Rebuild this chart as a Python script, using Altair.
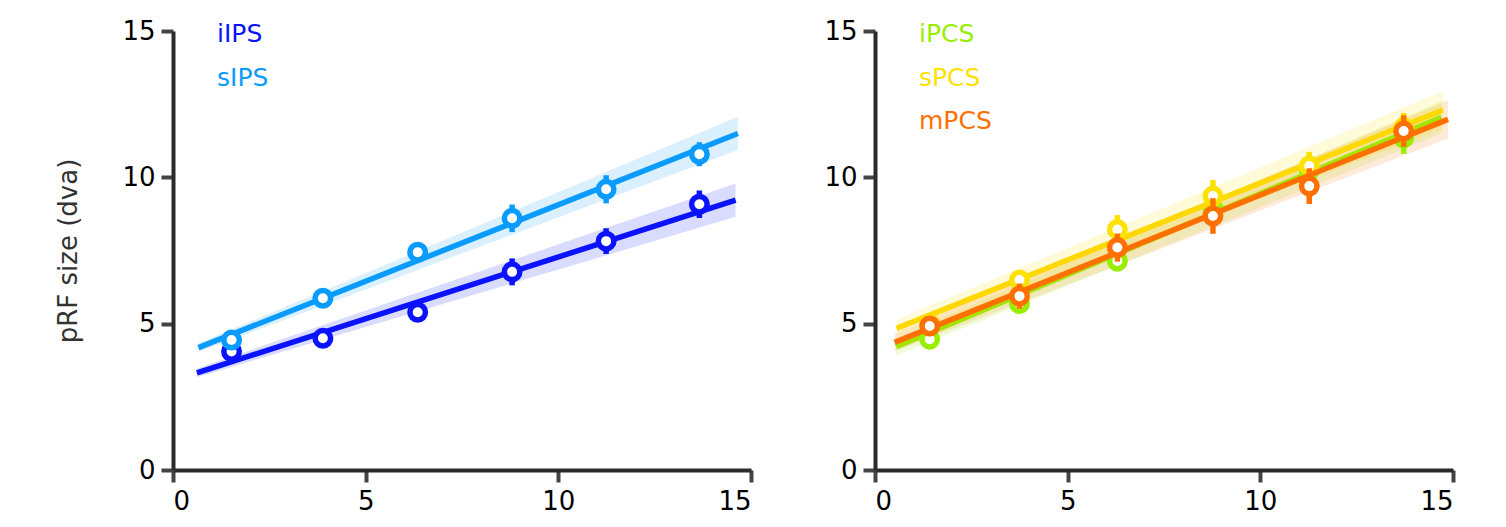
import altair as alt
import pandas as pd

# ---------------- data ----------------
ecc_left = [1.52, 3.89, 6.35, 8.80, 11.24, 13.66]
ecc_right = [1.42, 3.75, 6.29, 8.77, 11.27, 13.72]

iips_size = [4.05, 4.50, 5.39, 6.77, 7.82, 9.08]
iips_err = [0.20, 0.20, 0.25, 0.46, 0.44, 0.47]
sips_size = [4.44, 5.87, 7.44, 8.60, 9.59, 10.79]
sips_err = [0.20, 0.20, 0.25, 0.47, 0.48, 0.41]

ipcs_size = [4.47, 5.69, 7.14, 8.95, 10.25, 11.35]
ipcs_err = [0.20, 0.30, 0.35, 0.40, 0.50, 0.55]
spcs_size = [4.98, 6.49, 8.22, 9.36, 10.39, 11.70]
spcs_err = [0.20, 0.20, 0.49, 0.55, 0.48, 0.50]
mpcs_size = [4.92, 5.94, 7.60, 8.68, 9.70, 11.58]
mpcs_err = [0.20, 0.43, 0.48, 0.61, 0.61, 0.54]

# fitted lines: x start/end, y start/end; band half-width at start/end
iips_fit_x = [0.62, 14.60]
iips_fit_y = [3.32, 9.22]
iips_band = [0.15, 0.57]
sips_fit_x = [0.66, 14.66]
sips_fit_y = [4.18, 11.50]
sips_band = [0.15, 0.57]
ipcs_fit_x = [0.55, 14.70]
ipcs_fit_y = [4.21, 12.05]
ipcs_band = [0.30, 0.55]
spcs_fit_x = [0.56, 14.74]
spcs_fit_y = [4.84, 12.30]
spcs_band = [0.30, 0.65]
mpcs_fit_x = [0.51, 14.87]
mpcs_fit_y = [4.36, 11.98]
mpcs_band = [0.30, 0.65]

left_names = ["iIPS", "sIPS"]
right_names = ["iPCS", "sPCS", "mPCS"]
colors = {"iIPS": "#0A12FF", "sIPS": "#0A9BFF",
          "iPCS": "#99EE00", "sPCS": "#FFE100", "mPCS": "#FF7000"}
line_colors = {"iIPS": "#0A12FF", "sIPS": "#0A9BFF",
               "iPCS": "#A2E600", "sPCS": "#FFD800", "mPCS": "#FF7000"}

x_ticks = [0, 5, 10, 15]
y_ticks = [0, 5, 10, 15]

series = {
    "iIPS": (ecc_left, iips_size, iips_err, iips_fit_x, iips_fit_y, iips_band),
    "sIPS": (ecc_left, sips_size, sips_err, sips_fit_x, sips_fit_y, sips_band),
    "iPCS": (ecc_right, ipcs_size, ipcs_err, ipcs_fit_x, ipcs_fit_y, ipcs_band),
    "sPCS": (ecc_right, spcs_size, spcs_err, spcs_fit_x, spcs_fit_y, spcs_band),
    "mPCS": (ecc_right, mpcs_size, mpcs_err, mpcs_fit_x, mpcs_fit_y, mpcs_band),
}

FONT = "DejaVu Sans"


def axis_x():
    return alt.Axis(values=x_ticks, grid=False, title=None, tickSize=12, tickWidth=4,
                    tickColor="#444444", domainColor="#2b2b2b", domainWidth=4,
                    labelFontSize=26, labelFont=FONT, labelColor="#000000",
                    labelPadding=6)


def axis_y(title):
    kw = dict(values=y_ticks, grid=False, tickSize=12, tickWidth=4,
              tickColor="#444444", domainColor="#2b2b2b", domainWidth=4,
              labelFontSize=26, labelFont=FONT, labelColor="#000000",
              labelPadding=6)
    if title:
        kw.update(title=title, titleFontSize=26, titleFont=FONT,
                  titleFontWeight="normal", titleColor="#333333", titlePadding=40)
    else:
        kw.update(title=None)
    return alt.Axis(**kw)


def panel(names, ytitle):
    xs = alt.Scale(domain=[0, 15], nice=False)
    ys = alt.Scale(domain=[0, 15], nice=False)
    layers = []
    # bands first
    for n in names:
        ex, sz, er, fx, fy, bd = series[n]
        bdf = pd.DataFrame({"x": fx, "lo": [fy[0] - bd[0], fy[1] - bd[1]],
                            "hi": [fy[0] + bd[0], fy[1] + bd[1]]})
        layers.append(alt.Chart(bdf).mark_area(color=colors[n], opacity=0.15).encode(
            x=alt.X("x:Q", scale=xs, axis=axis_x()),
            y=alt.Y("lo:Q", scale=ys, axis=axis_y(ytitle)),
            y2="hi:Q"))
    for n in names:
        ex, sz, er, fx, fy, bd = series[n]
        ldf = pd.DataFrame({"x": fx, "y": fy})
        layers.append(alt.Chart(ldf).mark_line(color=line_colors[n], strokeWidth=5.5).encode(
            x="x:Q", y="y:Q"))
        pdf = pd.DataFrame({"x": ex, "y": sz, "lo": [a - b for a, b in zip(sz, er)],
                            "hi": [a + b for a, b in zip(sz, er)]})
        layers.append(alt.Chart(pdf).mark_rule(color=colors[n], strokeWidth=5.5).encode(
            x="x:Q", y="lo:Q", y2="hi:Q"))
        layers.append(alt.Chart(pdf).mark_point(shape="circle", filled=True, fill="white",
                                                stroke=colors[n], strokeWidth=5.5, size=240,
                                                opacity=1).encode(x="x:Q", y="y:Q"))
    for i, n in enumerate(names):
        tdf = pd.DataFrame({"label": [n]})
        layers.append(alt.Chart(tdf).mark_text(align="left", baseline="alphabetic",
                                               fontSize=25, font=FONT, color=colors[n]).encode(
            x=alt.value(44), y=alt.value(11 + 43.5 * i), text="label:N"))
    return alt.layer(*layers).properties(width=578, height=439)


left = panel(left_names, "pRF size (dva)")
right = panel(right_names, None)

chart = alt.hconcat(left, right, spacing=70).properties(
    padding={"left": 47, "top": 10, "right": 5, "bottom": 5},
    background="white"
).configure_view(strokeWidth=0, stroke=None)

chart.save("out.html", embed_options={"renderer": "svg", "actions": False})
